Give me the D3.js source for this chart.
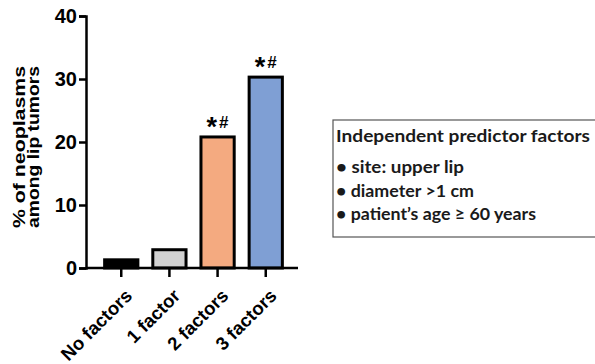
<!DOCTYPE html>
<html>
<head>
<meta charset="utf-8">
<script src="https://cdn.jsdelivr.net/npm/d3@7"></script>
<style>
  body { margin: 0; background: #fff; }
  text { font-family: "Liberation Sans", Arial, sans-serif; }
</style>
</head>
<body>
<div id="chart"></div>
<script>
const categories = ['No factors', '1 factor', '2 factors', '3 factors'];
const values = [1.3, 2.9, 20.8, 30.3];
const barColors = ['#000000', '#d2d2d2', '#f4aa80', '#7f9fd4'];
const marks = [false, false, true, true];
const yTicks = [0, 10, 20, 30, 40];
const yTitle = ['% of neoplasms', 'among lip tumors'];
const legendTitle = 'Independent predictor factors';
const legendItems = ['site: upper lip', 'diameter >1 cm', 'patient\u2019s age \u2265 60 years'];
const legendItemLengths = [128, 138, 200];

const width = 595, height = 364;
const svg = d3.select('#chart').append('svg')
    .attr('width', width)
    .attr('height', height);

const x = d3.scaleBand()
    .domain(categories)
    .range([95, 292])
    .paddingInner(0.31)
    .paddingOuter(0.2);

const y = d3.scaleLinear()
    .domain([0, 40])
    .range([268, 16]);

// bars
svg.selectAll('rect.bar')
    .data(categories)
    .enter()
    .append('rect')
    .attr('class', 'bar')
    .attr('x', d => x(d))
    .attr('y', (d, i) => y(values[i]))
    .attr('width', x.bandwidth())
    .attr('height', (d, i) => y(0) - y(values[i]))
    .attr('fill', (d, i) => barColors[i])
    .attr('stroke', '#000')
    .attr('stroke-width', 3);

// significance marks  *#
const mk = svg.selectAll('text.mark')
    .data(categories.filter((d, i) => marks[i]))
    .enter()
    .append('text')
    .attr('class', 'mark')
    .attr('x', d => x(d) + x.bandwidth() / 2)
    .attr('y', d => y(values[categories.indexOf(d)]) - 9)
    .attr('text-anchor', 'middle')
    .attr('font-weight', 'bold');
mk.append('tspan')
    .attr('font-size', 27)
    .attr('dy', 8)
    .text('*');
mk.append('tspan')
    .attr('font-size', 17)
    .attr('dx', 2)
    .attr('dy', -8)
    .text('#');

// y axis
const yAxis = svg.append('g')
    .attr('transform', 'translate(86,0)')
    .call(d3.axisLeft(y).tickValues(yTicks).tickSize(7).tickPadding(2));
yAxis.selectAll('text')
    .attr('font-size', 20)
    .attr('font-weight', 'bold')
    .attr('fill', '#000')
    .style('font-family', '"Liberation Sans", Arial, sans-serif');
yAxis.selectAll('line, path').attr('stroke', '#000').attr('stroke-width', 2.5);

// x axis
const xAxis = svg.append('g')
    .attr('transform', 'translate(0,268)')
    .call(d3.axisBottom(x).tickSize(9).tickSizeOuter(0));
xAxis.select('path').attr('d', 'M86,0H298');
xAxis.selectAll('line, path').attr('stroke', '#000').attr('stroke-width', 2.5);
xAxis.selectAll('text')
    .attr('font-size', 18.5)
    .attr('font-weight', 'bold')
    .attr('fill', '#000')
    .style('font-family', '"Liberation Sans", Arial, sans-serif')
    .attr('text-anchor', 'end')
    .attr('x', 0)
    .attr('y', 0)
    .attr('dy', 0)
    .attr('transform', 'translate(12,29) rotate(-45)');

// y title
svg.append('text')
    .attr('transform', 'translate(0,147) rotate(-90)')
    .attr('text-anchor', 'middle')
    .attr('font-size', 17)
    .attr('font-weight', 'bold')
    .selectAll('tspan')
    .data(yTitle)
    .enter()
    .append('tspan')
    .attr('x', 0)
    .attr('y', (d, i) => i === 0 ? 25 : 39)
    .attr('textLength', 162)
    .attr('lengthAdjust', 'spacingAndGlyphs')
    .text(d => d);

// legend box
const lg = svg.append('g').attr('transform', 'translate(333,120)');
lg.append('rect')
    .attr('width', 270)
    .attr('height', 117)
    .attr('fill', '#fff')
    .attr('stroke', '#555')
    .attr('stroke-width', 1.2);
lg.append('text')
    .attr('x', 3)
    .attr('y', 22)
    .attr('font-size', 17)
    .attr('font-weight', 'bold')
    .attr('fill', '#1a1a1a')
    .attr('textLength', 254)
    .attr('lengthAdjust', 'spacingAndGlyphs')
    .style('font-family', 'Lato, "Open Sans", sans-serif')
    .text(legendTitle);
lg.selectAll('text.item')
    .data(legendItems)
    .enter()
    .append('text')
    .attr('class', 'item')
    .attr('x', 3)
    .attr('y', (d, i) => 53 + i * 23.5)
    .attr('font-size', 17)
    .attr('font-weight', 'bold')
    .attr('fill', '#1a1a1a')
    .attr('textLength', (d, i) => legendItemLengths[i])
    .attr('lengthAdjust', 'spacingAndGlyphs')
    .style('font-family', 'Lato, "Open Sans", sans-serif')
    .text(d => '\u2022 ' + d);
</script>
</body>
</html>
